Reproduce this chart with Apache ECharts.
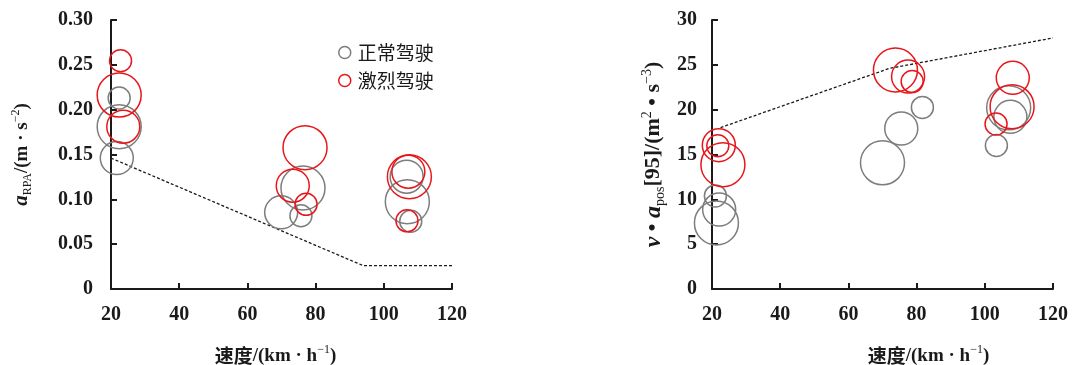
<!DOCTYPE html>
<html>
<head>
<meta charset="utf-8">
<script src="https://cdn.jsdelivr.net/npm/echarts@6/dist/echarts.min.js"></script>
<style>html,body{margin:0;padding:0;background:#fff}#c{width:1080px;height:365px}</style>
</head>
<body>
<div id="c"></div>
<script>
// ---- data ----
var seriesNames = ['正常驾驶', '激烈驾驶'];
var xTicks = [20, 40, 60, 80, 100, 120];

// left chart: a_RPA
var speedNormalL = [22.4, 22.4, 21.7, 69.9, 75.7, 76.3, 106.9, 106.7, 107.9];
var aRpaNormal   = [0.213, 0.181, 0.146, 0.0855, 0.0817, 0.1126, 0.0974, 0.1252, 0.0755];
var levelNormalL = [1, 3, 2, 2, 1, 3, 3, 2, 1];

var speedAggrL   = [22.8, 22.4, 23.6, 76.9, 73.3, 77.2, 107.5, 107.2, 106.8];
var aRpaAggr     = [0.2546, 0.2163, 0.181, 0.1576, 0.1152, 0.0944, 0.1252, 0.1308, 0.0760];
var levelAggrL   = [1, 3, 2, 3, 2, 1, 3, 2, 1];

var limitSpeedL  = [20, 94, 120];
var limitARpa    = [0.146, 0.026, 0.026];

// right chart: v*a_pos[95]
var speedNormalR = [21.0, 22.1, 21.3, 70.0, 75.5, 81.7, 103.4, 107.5, 107.0];
var vaNormal     = [10.38, 8.86, 7.37, 14.07, 17.9, 20.25, 16.0, 19.2, 20.2];
var levelNormalR = [1, 2, 3, 3, 2, 1, 1, 2, 3];

var speedAggrR   = [22.0, 21.7, 23.2, 73.8, 77.5, 78.7, 108.2, 108.0, 103.3];
var vaAggr       = [16.04, 15.97, 13.87, 24.42, 23.69, 23.13, 23.55, 20.33, 18.4];
var levelAggrR   = [2, 1, 3, 3, 2, 1, 2, 3, 1];

var limitSpeedR  = [22.5, 72, 120];
var limitVa      = [18.0, 24.6, 28.0];

// ---- helpers ----
function zip3(a, b, c) { return a.map(function (v, i) { return [v, b[i], c[i]]; }); }
function zip2(a, b) { return a.map(function (v, i) { return [v, b[i]]; }); }
var diam = {1: 22, 2: 33, 3: 44};
var GRAY = '#7d7d7d', RED = '#e8161b', INK = '#1a1a1a';
var SERIF = '"Liberation Serif", "Noto Sans CJK SC", serif';
var CJK = '"Noto Sans CJK SC", "Liberation Serif", sans-serif';

function bubble(name, color, data, gi) {
  return {
    name: name, type: 'scatter', xAxisIndex: gi, yAxisIndex: gi,
    data: data,
    symbolSize: function (v) { return diam[v[2]]; },
    itemStyle: {color: 'rgba(0,0,0,0)', borderColor: color, borderWidth: 1.5, opacity: 1},
    emphasis: {disabled: true},
    z: 3
  };
}
function dashed(data, gi) {
  return {
    type: 'line', xAxisIndex: gi, yAxisIndex: gi, data: data, symbol: 'none',
    lineStyle: {color: INK, width: 1.3, type: [3, 2]}, z: 2, silent: true
  };
}

var tickFont = {fontFamily: SERIF, fontWeight: 'bold', fontSize: 20, color: INK};
function richSet(base) {
  return {
    n: {fontFamily: CJK, fontWeight: 'bold', fontSize: base, color: INK, lineHeight: base + 5},
    s: {fontFamily: SERIF, fontWeight: 'bold', fontSize: base, color: INK, lineHeight: base + 5},
    i: {fontFamily: SERIF, fontWeight: 'bold', fontStyle: 'italic', fontSize: base + 2, color: INK, lineHeight: base + 5},
    sub: {fontFamily: SERIF, fontWeight: 'normal', fontSize: Math.round(base * 0.62), color: INK, lineHeight: Math.round(base * 0.62), verticalAlign: 'bottom'},
    sup: {fontFamily: SERIF, fontWeight: 'normal', fontSize: Math.round(base * 0.62), color: INK, lineHeight: Math.round(base * 0.62), verticalAlign: 'top'}
  };
}

function xAxis(gi, padLeft) {
  return {
    gridIndex: gi, type: 'value', min: 20, max: 120, interval: 20,
    axisLine: {show: true, lineStyle: {color: INK, width: 2}},
    axisTick: {show: true, inside: true, length: 6, lineStyle: {color: INK, width: 2}},
    axisLabel: Object.assign({margin: 16,
      formatter: function (v) { return xTicks.indexOf(v) >= 0 ? String(v) : ''; }}, tickFont),
    splitLine: {show: false},
    name: '{n|速度}{s|/(km · h}{sup|−1}{s|)}',
    nameLocation: 'middle', nameGap: 55,
    nameTextStyle: {rich: richSet(19), padding: [0, 0, 0, padLeft]}
  };
}
function yAxis(gi, max, interval, fmt, name, gap, margin, fs) {
  return {
    gridIndex: gi, type: 'value', min: 0, max: max, interval: interval,
    axisLine: {show: true, lineStyle: {color: INK, width: 2}},
    axisTick: {show: true, inside: true, length: 6, lineStyle: {color: INK, width: 2}},
    axisLabel: Object.assign({margin: margin, formatter: fmt}, tickFont),
    splitLine: {show: false},
    name: name, nameLocation: 'middle', nameGap: gap, nameRotate: 90,
    nameTextStyle: {rich: richSet(fs)}
  };
}

var chart = echarts.init(document.getElementById('c'), null, {renderer: 'canvas'});
chart.setOption({
  animation: false,
  backgroundColor: '#fff',
  grid: [
    {left: 111, right: 628, top: 20, bottom: 76, containLabel: false, outerBoundsMode: 'none'},
    {left: 712, right: 27, top: 20, bottom: 76, containLabel: false, outerBoundsMode: 'none'}
  ],
  legend: {
    data: [
      {name: seriesNames[0], icon: 'circle', itemStyle: {color: 'rgba(0,0,0,0)', borderColor: GRAY, borderWidth: 1.5}},
      {name: seriesNames[1], icon: 'circle', itemStyle: {color: 'rgba(0,0,0,0)', borderColor: RED, borderWidth: 1.5}}
    ],
    orient: 'vertical', left: 338, top: 41, itemWidth: 16, itemHeight: 12, itemGap: 5, padding: 0,
    textStyle: {fontFamily: CJK, fontSize: 19, color: INK, lineHeight: 23}
  },
  xAxis: [xAxis(0, -12), xAxis(1, 92)],
  yAxis: [
    yAxis(0, 0.3, 0.05, function (v) { return v === 0 ? '0' : v.toFixed(2); },
      '{i|a}{sub|RPA}{s|/(m · s}{sup|−2}{s|)}', 77, 18, 19),
    yAxis(1, 30, 5, function (v) { return String(v); },
      '{i|v}{s| • }{i|a}{sub|pos}{s|[95]/(m}{sup|2}{s| • s}{sup|−3}{s|)}', 45, 15, 22)
  ],
  series: [
    dashed(zip2(limitSpeedL, limitARpa), 0),
    bubble(seriesNames[0], GRAY, zip3(speedNormalL, aRpaNormal, levelNormalL), 0),
    bubble(seriesNames[1], RED, zip3(speedAggrL, aRpaAggr, levelAggrL), 0),
    dashed(zip2(limitSpeedR, limitVa), 1),
    bubble(seriesNames[0], GRAY, zip3(speedNormalR, vaNormal, levelNormalR), 1),
    bubble(seriesNames[1], RED, zip3(speedAggrR, vaAggr, levelAggrR), 1)
  ]
});
</script>
</body>
</html>
